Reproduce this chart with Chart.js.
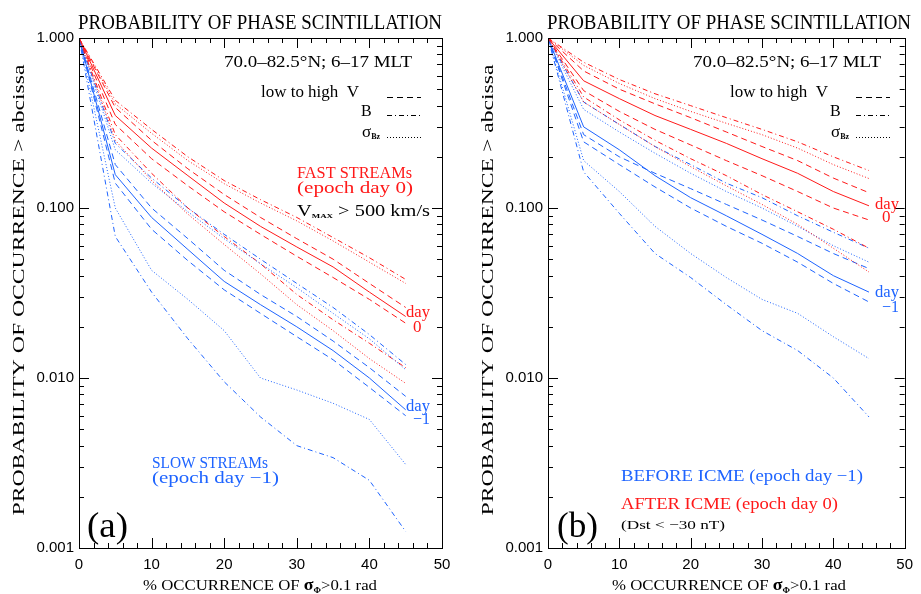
<!DOCTYPE html>
<html><head><meta charset="utf-8">
<script src="https://cdn.jsdelivr.net/npm/chart.js@4.4.1/dist/chart.umd.min.js"></script>
<style>
html,body{margin:0;padding:0;background:#fff;width:921px;height:594px;overflow:hidden}
#pa{position:absolute;left:0;top:0;width:460px;height:594px}
#pb{position:absolute;left:469px;top:0;width:452px;height:594px}
</style></head><body>
<div id="pa"><canvas id="ca" width="460" height="594"></canvas></div>
<div id="pb"><canvas id="cb" width="452" height="594"></canvas></div>
<script>
// ---------- DATA ----------
const xVals = [0, 5, 10, 15, 20, 25, 30, 35, 40, 45];
const yTickValues = [0.001, 0.01, 0.1, 1];
const yTickLabels = ['0.001', '0.010', '0.100', '1.000'];
const xTickLabels = ['0', '10', '20', '30', '40', '50'];

// Panel (a): fast streams (red, day 0) and slow streams (blue, day -1)
const aRedSolid     = [1, 0.35, 0.225, 0.155, 0.107, 0.078, 0.059, 0.045, 0.032, 0.023];
const aRedDashHi    = [1, 0.39, 0.25, 0.17, 0.12, 0.088, 0.066, 0.050, 0.036, 0.026];
const aRedDashLo    = [1, 0.31, 0.195, 0.135, 0.095, 0.070, 0.052, 0.039, 0.029, 0.021];
const aRedDashDotHi = [1, 0.43, 0.29, 0.20, 0.145, 0.112, 0.088, 0.067, 0.051, 0.038];
const aRedDotHi     = [1, 0.41, 0.275, 0.19, 0.139, 0.107, 0.084, 0.064, 0.048, 0.036];
const aRedDashDotLo = [1, 0.27, 0.16, 0.10, 0.068, 0.047, 0.031, 0.022, 0.016, 0.0115];
const aRedDotLo     = [1, 0.25, 0.145, 0.092, 0.061, 0.041, 0.027, 0.019, 0.013, 0.0093];
const aBlueSolid     = [1, 0.157, 0.088, 0.057, 0.037, 0.027, 0.020, 0.0145, 0.010, 0.0065];
const aBlueDashHi    = [1, 0.18, 0.10, 0.066, 0.043, 0.031, 0.023, 0.0165, 0.0115, 0.0078];
const aBlueDashLo    = [1, 0.14, 0.075, 0.049, 0.033, 0.024, 0.0175, 0.0128, 0.0088, 0.006];
const aBlueDashDotHi = [1, 0.24, 0.15, 0.10, 0.070, 0.050, 0.036, 0.026, 0.018, 0.012];
const aBlueDotHi     = [1, 0.22, 0.14, 0.095, 0.066, 0.047, 0.034, 0.024, 0.017, 0.0112];
const aBlueDotLo     = [1, 0.10, 0.043, 0.029, 0.019, 0.010, 0.0085, 0.0071, 0.0057, 0.0031];
const aBlueDashDotLo = [1, 0.068, 0.032, 0.017, 0.0095, 0.0059, 0.0040, 0.0034, 0.0025, 0.00125];

// Panel (b): after ICME (red, day 0) and before ICME (blue, day -1)
const bRedSolid     = [1, 0.56, 0.44, 0.35, 0.29, 0.24, 0.195, 0.16, 0.125, 0.103];
const bRedDashHi    = [1, 0.64, 0.50, 0.41, 0.34, 0.28, 0.23, 0.19, 0.15, 0.123];
const bRedDashLo    = [1, 0.49, 0.37, 0.29, 0.235, 0.19, 0.155, 0.125, 0.10, 0.085];
const bRedDashDotHi = [1, 0.72, 0.57, 0.47, 0.40, 0.34, 0.29, 0.245, 0.20, 0.166];
const bRedDotHi     = [1, 0.69, 0.54, 0.44, 0.37, 0.315, 0.27, 0.225, 0.18, 0.149];
const bRedDashDotLo = [1, 0.45, 0.33, 0.25, 0.195, 0.155, 0.12, 0.095, 0.075, 0.058];
const bRedDotLo     = [1, 0.42, 0.31, 0.23, 0.175, 0.135, 0.105, 0.08, 0.058, 0.042];
const bBlueSolid     = [1, 0.30, 0.22, 0.155, 0.115, 0.09, 0.07, 0.054, 0.04, 0.032];
const bBlueDashHi    = [1, 0.27, 0.20, 0.16, 0.13, 0.105, 0.085, 0.068, 0.054, 0.044];
const bBlueDashLo    = [1, 0.245, 0.18, 0.133, 0.10, 0.078, 0.062, 0.048, 0.036, 0.028];
const bBlueDashDotHi = [1, 0.42, 0.31, 0.23, 0.18, 0.14, 0.115, 0.09, 0.072, 0.058];
const bBlueDotHi     = [1, 0.38, 0.28, 0.21, 0.16, 0.125, 0.10, 0.078, 0.06, 0.048];
const bBlueDotLo     = [1, 0.19, 0.125, 0.078, 0.054, 0.039, 0.029, 0.024, 0.0175, 0.013];
const bBlueDashDotLo = [1, 0.163, 0.093, 0.054, 0.039, 0.027, 0.019, 0.0145, 0.010, 0.0059];

// ---------- STYLE ----------
const RED = 'rgb(255,25,25)';
const BLUE = 'rgb(30,100,255)';
const DASH = [6, 4];
const DASHDOT = [5, 3, 1, 3];
const DOT = [1, 2];
const SERIF = '"Liberation Serif", "DejaVu Serif", serif';
const SANS = '"Liberation Sans", Arial, sans-serif';

function ds(vals, color, dash) {
  return {
    data: xVals.map((x, i) => ({ x: x, y: vals[i] })),
    borderColor: color, borderDash: dash, borderWidth: 1,
    pointRadius: 0, fill: false, tension: 0
  };
}

function drawParts(ctx, item) {
  const parts = item.parts;
  let total = 0;
  const widths = parts.map(p => {
    ctx.font = (p.weight || '') + ' ' + p.size + 'px ' + (p.family || SERIF);
    const w = ctx.measureText(p.t).width;
    total += w; return w;
  });
  const sc = item.w ? item.w / total : 1;
  ctx.save();
  ctx.translate(item.x, item.y);
  if (item.rot) ctx.rotate(-Math.PI / 2);
  ctx.scale(sc, 1);
  let cx = item.center ? -total / 2 : 0;
  ctx.fillStyle = item.color || '#000';
  ctx.textBaseline = 'alphabetic';
  ctx.textAlign = 'left';
  parts.forEach((p, i) => {
    ctx.font = (p.weight || '') + ' ' + p.size + 'px ' + (p.family || SERIF);
    ctx.fillText(p.t, cx, p.dy || 0);
    cx += widths[i];
  });
  ctx.restore();
}

function T(t, size, extra) { return Object.assign({ t: t, size: size }, extra || {}); }

const commonTexts = [
  { parts: [T('PROBABILITY OF PHASE SCINTILLATION', 20)], x: 78, y: 29, w: 364 },
  { parts: [T('70.0\u201382.5\u00B0N; 6\u201317 MLT', 16)], x: 224, y: 67, w: 188 },
  { parts: [T('low to high  V', 16)], x: 261, y: 97, w: 98 },
  { parts: [T('B', 16)], x: 361, y: 116 },
  { parts: [T('\u03C3', 17), T('Bz', 8, { dy: 2, weight: 'bold' })], x: 362, y: 137 },
  { parts: [T('% OCCURRENCE OF ', 15), T('\u03C3', 16, { weight: 'bold' }), T('\u03A6', 8, { dy: 3, weight: 'bold' }), T('>0.1 rad', 15)], x: 143, y: 590, w: 234 },
  { parts: [T('PROBABILITY OF OCCURRENCE > abcissa', 16)], x: 24, y: 290, w: 451, rot: true, center: true }
];

const textsA = commonTexts.concat([
  { parts: [T('FAST STREAMs', 16)], x: 297, y: 178, w: 115, color: RED },
  { parts: [T('(epoch day 0)', 16)], x: 297, y: 193, w: 116, color: RED },
  { parts: [T('V', 16), T('MAX', 7, { dy: 2, weight: 'bold' }), T(' > 500 km/s', 16)], x: 297, y: 216, w: 133 },
  { parts: [T('day', 17)], x: 406, y: 317, w: 24, color: RED },
  { parts: [T('0', 17)], x: 413, y: 332, color: RED },
  { parts: [T('day', 17)], x: 406, y: 411, w: 24, color: BLUE },
  { parts: [T('\u22121', 17)], x: 413, y: 424, w: 17, color: BLUE },
  { parts: [T('SLOW STREAMs', 16)], x: 152, y: 468, w: 116, color: BLUE },
  { parts: [T('(epoch day \u22121)', 16)], x: 152, y: 483, w: 127, color: BLUE },
  { parts: [T('(a)', 36)], x: 87, y: 537, w: 41 }
]);

const textsB = commonTexts.concat([
  { parts: [T('day', 17)], x: 406, y: 209, w: 24, color: RED },
  { parts: [T('0', 17)], x: 413, y: 222, color: RED },
  { parts: [T('day', 17)], x: 406, y: 297, w: 24, color: BLUE },
  { parts: [T('\u22121', 17)], x: 413, y: 312, w: 17, color: BLUE },
  { parts: [T('BEFORE ICME (epoch day \u22121)', 16)], x: 152, y: 481, w: 242, color: BLUE },
  { parts: [T('AFTER ICME (epoch day 0)', 16)], x: 152, y: 509, w: 217, color: RED },
  { parts: [T('(Dst < \u221230 nT)', 13)], x: 152, y: 529, w: 104 },
  { parts: [T('(b)', 36)], x: 88, y: 537, w: 41 }
]);

const framePlugin = {
  id: 'frame',
  afterDraw(chart, args, opts) {
    const ctx = chart.ctx, a = chart.chartArea;
    const xs = chart.scales.x, ys = chart.scales.y;
    ctx.save();
    ctx.strokeStyle = '#000';
    ctx.lineWidth = 1;
    ctx.setLineDash([]);
    ctx.strokeRect(Math.round(a.left) + 0.5, Math.round(a.top) + 0.5, Math.round(a.right - a.left), Math.round(a.bottom - a.top));
    ctx.beginPath();
    for (let v = 2; v < 50; v += 2) {
      const px = Math.round(xs.getPixelForValue(v)) + 0.5;
      const len = v % 10 === 0 ? 10 : 5;
      ctx.moveTo(px, a.bottom); ctx.lineTo(px, a.bottom - len);
      ctx.moveTo(px, a.top); ctx.lineTo(px, a.top + len);
    }
    for (let d = 0.001; d < 1.5; d *= 10) {
      for (let m = 1; m <= 9; m++) {
        const v = d * m;
        if (v > 1.0001) break;
        const py = Math.round(ys.getPixelForValue(v)) + 0.5;
        const len = m === 1 ? 10 : 5;
        ctx.moveTo(a.left, py); ctx.lineTo(a.left + len, py);
        ctx.moveTo(a.right, py); ctx.lineTo(a.right - len, py);
      }
    }
    ctx.stroke();
    // legend samples
    const samples = [[DASH, 97], [DASHDOT, 115], [DOT, 137]];
    samples.forEach(s => {
      ctx.beginPath();
      ctx.setLineDash(s[0]);
      ctx.moveTo(387, s[1] + 0.5); ctx.lineTo(421, s[1] + 0.5);
      ctx.stroke();
    });
    ctx.setLineDash([]);
    (opts.texts || []).forEach(t => drawParts(ctx, t));
    ctx.restore();
  }
};

function makeChart(id, rightPad, sets, texts) {
  return new Chart(document.getElementById(id), {
    type: 'line',
    data: { datasets: sets },
    options: {
      responsive: false, animation: false, events: [],
      layout: { padding: { top: 38, right: rightPad, left: 0, bottom: 0 } },
      plugins: { legend: { display: false }, tooltip: { enabled: false }, frame: { texts: texts } },
      scales: {
        x: {
          type: 'linear', min: 0, max: 50,
          afterBuildTicks(s) { s.ticks = xTickLabels.map(l => ({ value: Number(l) })); },
          ticks: { callback: (v, i) => xTickLabels[i], color: '#000', font: { family: SANS, size: 15 }, padding: 8, maxRotation: 0, autoSkip: false },
          grid: { display: false, drawTicks: false },
          border: { display: true, color: '#000', width: 1 },
          afterFit(s) { s.height = 46; }
        },
        y: {
          type: 'logarithmic', min: 0.001, max: 1,
          afterBuildTicks(s) { s.ticks = yTickValues.map(v => ({ value: v })); },
          ticks: { callback: (v, i) => yTickLabels[i], color: '#000', font: { family: SANS, size: 15 }, padding: 5, autoSkip: false },
          grid: { display: false, drawTicks: false },
          border: { display: true, color: '#000', width: 1 },
          afterFit(s) { s.width = 79; }
        }
      }
    },
    plugins: [framePlugin]
  });
}

makeChart('ca', 18, [
  ds(aRedDotHi, RED, DOT), ds(aRedDotLo, RED, DOT), ds(aBlueDotHi, BLUE, DOT), ds(aBlueDotLo, BLUE, DOT),
  ds(aRedDashDotHi, RED, DASHDOT), ds(aRedDashDotLo, RED, DASHDOT), ds(aBlueDashDotHi, BLUE, DASHDOT), ds(aBlueDashDotLo, BLUE, DASHDOT),
  ds(aRedDashHi, RED, DASH), ds(aRedDashLo, RED, DASH), ds(aBlueDashHi, BLUE, DASH), ds(aBlueDashLo, BLUE, DASH),
  ds(aRedSolid, RED, []), ds(aBlueSolid, BLUE, [])
], textsA);

makeChart('cb', 10, [
  ds(bRedDotHi, RED, DOT), ds(bRedDotLo, RED, DOT), ds(bBlueDotHi, BLUE, DOT), ds(bBlueDotLo, BLUE, DOT),
  ds(bRedDashDotHi, RED, DASHDOT), ds(bRedDashDotLo, RED, DASHDOT), ds(bBlueDashDotHi, BLUE, DASHDOT), ds(bBlueDashDotLo, BLUE, DASHDOT),
  ds(bRedDashHi, RED, DASH), ds(bRedDashLo, RED, DASH), ds(bBlueDashHi, BLUE, DASH), ds(bBlueDashLo, BLUE, DASH),
  ds(bRedSolid, RED, []), ds(bBlueSolid, BLUE, [])
], textsB);
</script>
</body></html>
